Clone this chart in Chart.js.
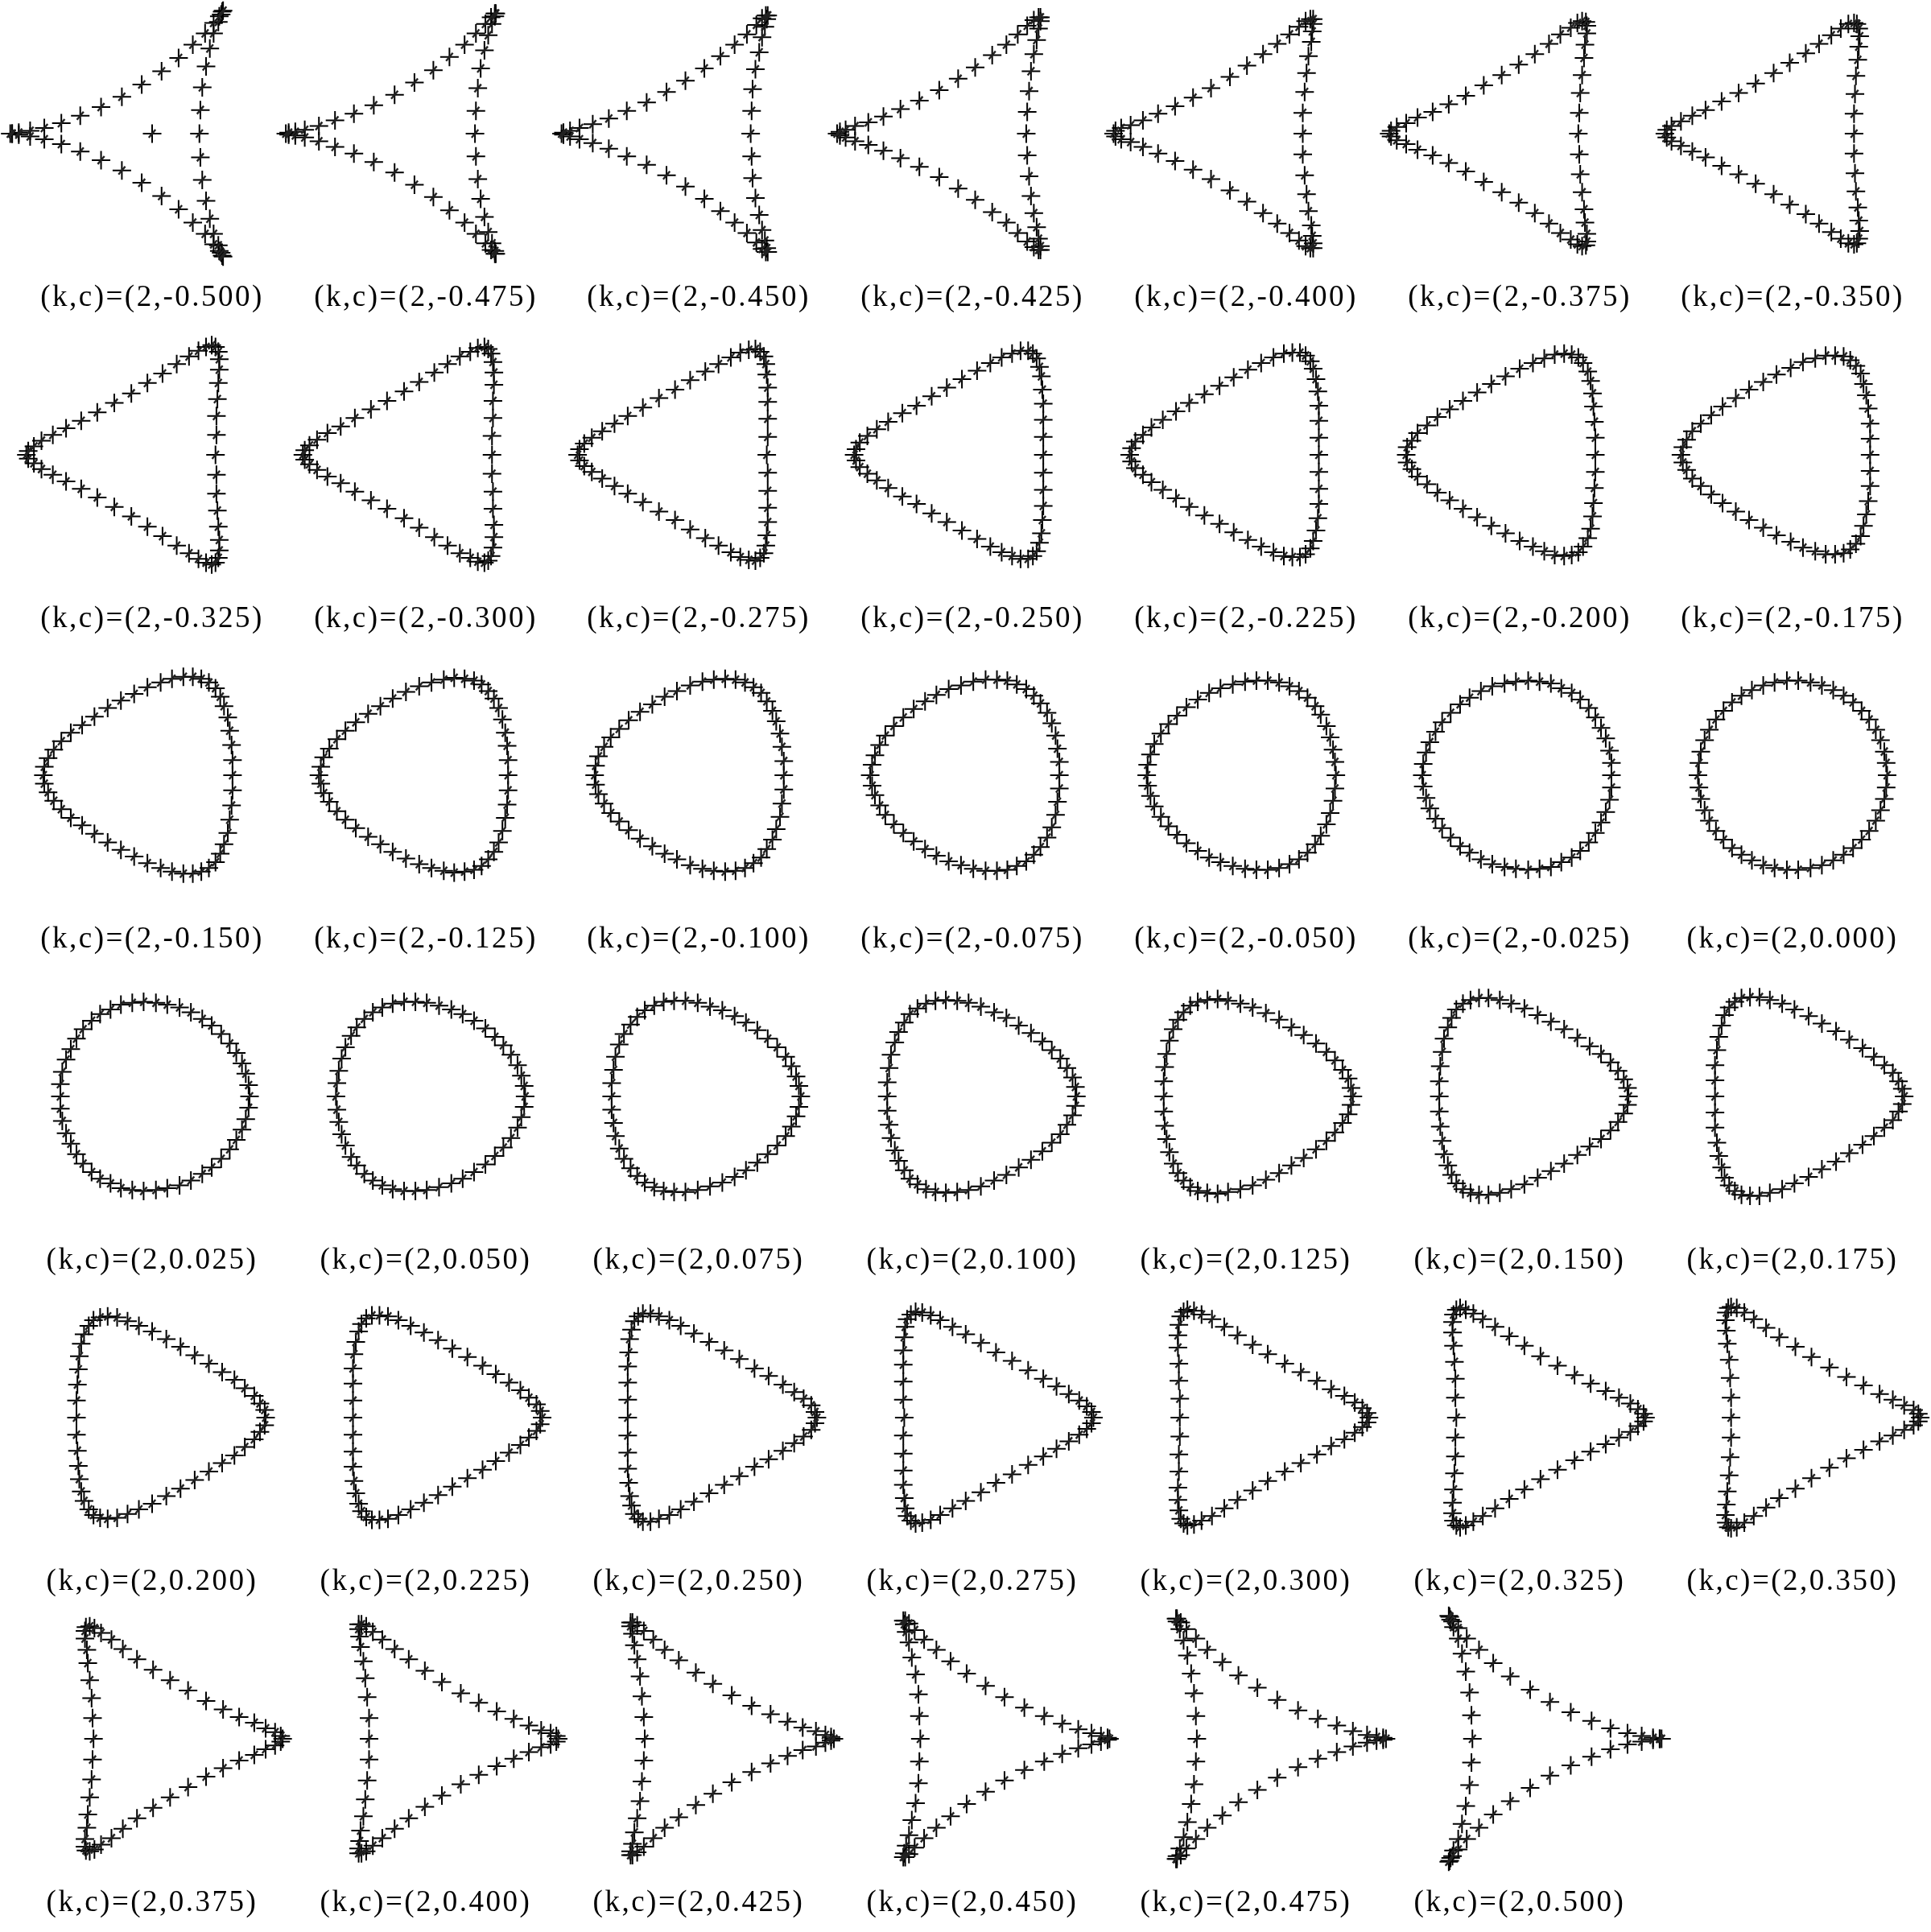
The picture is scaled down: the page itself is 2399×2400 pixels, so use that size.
<!DOCTYPE html>
<html>
<head>
<meta charset="utf-8">
<script src="https://cdn.jsdelivr.net/npm/chart.js"></script>
<style>
html,body{margin:0;padding:0;background:#fff;}
#grid{position:relative;width:2399px;height:2400px;overflow:hidden;background:#fff;}
#grid canvas{position:absolute;}
</style>
</head>
<body>
<div id="grid"></div>
<script>
// ---- data (units = 1/100 of the curve radius) ----
const K_VALUE = 2;
const C_VALUES = [-0.500,-0.475,-0.450,-0.425,-0.400,-0.375,-0.350,-0.325,-0.300,-0.275,-0.250,-0.225,-0.200,-0.175,-0.150,-0.125,-0.100,-0.075,-0.050,-0.025,0.000,0.025,0.050,0.075,0.100,0.125,0.150,0.175,0.200,0.225,0.250,0.275,0.300,0.325,0.350,0.375,0.400,0.425,0.450,0.475,0.500];

// heights (shared by the panels c and -c, which are mirror images)
const Y_00 = [0,13,25,37,48,59,68,77,84,90,95,98,100,100,98,95,90,84,77,68,59,48,37,25,13,0,-13,-25,-37,-48,-59,-68,-77,-84,-90,-95,-98,-100,-100,-98,-95,-90,-84,-77,-68,-59,-48,-37,-25,-13];
const Y_01 = [0,12,24,35,46,56,66,75,82,89,94,97,99,100,99,97,92,87,80,71,61,50,39,26,13,0,-13,-26,-39,-50,-61,-71,-80,-87,-92,-97,-99,-100,-99,-97,-94,-89,-82,-75,-66,-56,-46,-35,-24,-12];
const Y_02 = [0,11,22,33,44,54,63,72,80,87,92,96,99,100,100,98,94,89,82,73,64,52,40,27,14,0,-14,-27,-40,-52,-64,-73,-82,-89,-94,-98,-100,-100,-99,-96,-92,-87,-80,-72,-63,-54,-44,-33,-22,-11];
const Y_03 = [0,11,21,32,42,52,61,70,78,85,91,95,99,101,101,100,96,91,84,76,66,55,42,28,14,0,-14,-28,-42,-55,-66,-76,-84,-91,-96,-100,-101,-101,-99,-95,-91,-85,-78,-70,-61,-52,-42,-32,-21,-11];
const Y_04 = [0,10,20,30,40,49,58,67,75,83,89,95,99,101,102,101,98,93,87,78,68,57,44,30,15,0,-15,-30,-44,-57,-68,-78,-87,-93,-98,-101,-102,-101,-99,-95,-89,-83,-75,-67,-58,-49,-40,-30,-20,-10];
const Y_05 = [0,9,19,28,38,47,56,65,73,81,88,94,98,101,103,102,100,96,89,81,71,59,45,31,16,0,-16,-31,-45,-59,-71,-81,-89,-96,-100,-102,-103,-101,-98,-94,-88,-81,-73,-65,-56,-47,-38,-28,-19,-9];
const Y_06 = [0,9,18,27,36,45,53,62,71,79,86,93,98,102,104,104,102,98,92,83,73,61,47,32,16,0,-16,-32,-47,-61,-73,-83,-92,-98,-102,-104,-104,-102,-98,-93,-86,-79,-71,-62,-53,-45,-36,-27,-18,-9];
const Y_07 = [0,8,16,25,33,42,51,60,69,77,85,92,98,102,105,105,104,100,94,86,75,63,49,33,17,0,-17,-33,-49,-63,-75,-86,-94,-100,-104,-105,-105,-102,-98,-92,-85,-77,-69,-60,-51,-42,-33,-25,-16,-8];
const Y_08 = [0,8,15,23,31,40,48,57,66,75,83,91,97,102,106,107,106,103,97,88,78,65,51,35,18,0,-18,-35,-51,-65,-78,-88,-97,-103,-106,-107,-106,-102,-97,-91,-83,-75,-66,-57,-48,-40,-31,-23,-15,-8];
const Y_09 = [0,7,14,21,29,37,46,55,64,73,82,90,97,103,107,108,108,105,99,91,80,67,52,36,18,0,-18,-36,-52,-67,-80,-91,-99,-105,-108,-108,-107,-103,-97,-90,-82,-73,-64,-55,-46,-37,-29,-21,-14,-7];
const Y_10 = [0,6,13,20,27,35,44,52,62,71,80,89,97,103,107,110,110,107,102,93,83,69,54,37,19,0,-19,-37,-54,-69,-83,-93,-102,-107,-110,-110,-107,-103,-97,-89,-80,-71,-62,-52,-44,-35,-27,-20,-13,-6];
const Y_11 = [0,6,12,18,25,33,41,50,60,69,79,88,96,103,108,111,112,109,104,96,85,71,56,38,19,0,-19,-38,-56,-71,-85,-96,-104,-109,-112,-111,-108,-103,-96,-88,-79,-69,-60,-50,-41,-33,-25,-18,-12,-6];
const Y_12 = [0,5,10,16,23,30,39,48,57,67,77,87,96,104,109,113,114,112,107,98,87,74,57,39,20,0,-20,-39,-57,-74,-87,-98,-107,-112,-114,-113,-109,-104,-96,-87,-77,-67,-57,-48,-39,-30,-23,-16,-10,-5];
const Y_13 = [0,4,9,15,21,28,36,45,55,65,76,86,96,104,110,114,116,114,109,101,90,76,59,41,21,0,-21,-41,-59,-76,-90,-101,-109,-114,-116,-114,-110,-104,-96,-86,-76,-65,-55,-45,-36,-28,-21,-15,-9,-4];
const Y_14 = [0,4,8,13,19,25,34,43,53,64,75,85,95,104,111,116,117,116,111,103,92,78,61,42,21,0,-21,-42,-61,-78,-92,-103,-111,-116,-117,-116,-111,-104,-95,-85,-75,-64,-53,-43,-34,-25,-19,-13,-8,-4];
const Y_15 = [0,3,7,11,17,23,31,40,51,62,73,84,95,105,112,117,119,118,114,106,94,80,62,43,22,0,-22,-43,-62,-80,-94,-106,-114,-118,-119,-117,-112,-105,-95,-84,-73,-62,-51,-40,-31,-23,-17,-11,-7,-3];
const Y_16 = [0,3,6,9,14,21,29,38,48,60,72,84,95,105,113,119,121,121,116,108,97,82,64,44,22,0,-22,-44,-64,-82,-97,-108,-116,-121,-121,-119,-113,-105,-95,-84,-72,-60,-48,-38,-29,-21,-14,-9,-6,-3];
const Y_17 = [0,2,4,8,12,18,26,35,46,58,70,83,94,105,114,120,123,123,119,111,99,84,66,45,23,0,-23,-45,-66,-84,-99,-111,-119,-123,-123,-120,-114,-105,-94,-83,-70,-58,-46,-35,-26,-18,-12,-8,-4,-2];
const Y_18 = [0,1,3,6,10,16,24,33,44,56,69,82,94,105,115,122,125,125,121,113,102,86,68,47,24,0,-24,-47,-68,-86,-102,-113,-121,-125,-125,-122,-115,-105,-94,-82,-69,-56,-44,-33,-24,-16,-10,-6,-3,-1];
const Y_19 = [0,1,2,4,8,14,21,30,41,54,67,81,94,106,116,123,127,127,124,116,104,88,69,48,24,0,-24,-48,-69,-88,-104,-116,-124,-127,-127,-123,-116,-106,-94,-81,-67,-54,-41,-30,-21,-14,-8,-4,-2,-1];
const Y_20 = [0,0,1,3,6,11,19,28,39,52,66,80,94,106,117,124,129,130,126,118,106,90,71,49,25,0,-25,-49,-71,-90,-106,-118,-126,-130,-129,-124,-117,-106,-94,-80,-66,-52,-39,-28,-19,-11,-6,-3,-1,0];

// horizontal positions, one array per panel
const X_N20 = [-150,-148,-141,-129,-114,-96,-76,-54,-32,-11,10,28,43,56,65,71,74,75,73,70,65,61,57,53,51,50,51,53,57,61,65,70,73,75,74,71,65,56,43,28,10,-11,-32,-54,-76,-96,-114,-129,-141,-148];
const X_N19 = [-148,-145,-138,-128,-113,-96,-76,-55,-33,-12,8,25,41,53,63,69,73,74,73,70,66,62,58,55,53,52,53,55,58,62,66,70,73,74,73,69,63,53,41,25,8,-12,-33,-55,-76,-96,-113,-128,-138,-145];
const X_N18 = [-145,-143,-136,-126,-112,-95,-76,-55,-34,-14,6,23,38,51,61,67,71,73,72,70,67,64,60,57,56,55,56,57,60,64,67,70,72,73,71,67,61,51,38,23,6,-14,-34,-55,-76,-95,-112,-126,-136,-143];
const X_N17 = [-143,-140,-134,-124,-110,-94,-76,-56,-35,-15,3,21,36,48,58,65,70,72,72,70,68,65,62,60,58,57,58,60,62,65,68,70,72,72,70,65,58,48,36,21,3,-15,-35,-56,-76,-94,-110,-124,-134,-140];
const X_N16 = [-140,-138,-132,-122,-109,-93,-75,-56,-37,-17,1,18,33,46,56,63,68,71,71,70,69,66,64,62,60,60,60,62,64,66,69,70,71,71,68,63,56,46,33,18,1,-17,-37,-56,-75,-93,-109,-122,-132,-138];
const X_N15 = [-138,-136,-130,-120,-108,-92,-75,-57,-38,-19,-1,16,31,43,54,61,66,70,71,71,69,68,66,64,63,62,63,64,66,68,69,71,71,70,66,61,54,43,31,16,-1,-19,-38,-57,-75,-92,-108,-120,-130,-136];
const X_N14 = [-135,-133,-128,-118,-106,-92,-75,-57,-39,-20,-3,14,28,41,51,59,65,68,70,71,70,69,67,66,65,65,65,66,67,69,70,71,70,68,65,59,51,41,28,14,-3,-20,-39,-57,-75,-92,-106,-118,-128,-133];
const X_N13 = [-133,-131,-125,-117,-105,-91,-75,-58,-40,-22,-5,11,26,39,49,57,63,67,70,71,71,70,69,68,68,67,68,68,69,70,71,71,70,67,63,57,49,39,26,11,-5,-22,-40,-58,-75,-91,-105,-117,-125,-131];
const X_N12 = [-130,-128,-123,-115,-104,-90,-75,-58,-41,-23,-7,9,23,36,47,55,62,66,69,71,72,72,71,71,70,70,70,71,71,72,72,71,69,66,62,55,47,36,23,9,-7,-23,-41,-58,-75,-90,-104,-115,-123,-128];
const X_N11 = [-128,-126,-121,-113,-102,-89,-75,-59,-42,-25,-9,7,21,34,44,53,60,65,69,71,72,73,73,73,73,72,73,73,73,73,72,71,69,65,60,53,44,34,21,7,-9,-25,-42,-59,-75,-89,-102,-113,-121,-126];
const X_N10 = [-125,-123,-119,-111,-101,-89,-74,-59,-43,-27,-11,5,19,31,42,51,59,64,68,71,73,74,75,75,75,75,75,75,75,74,73,71,68,64,59,51,42,31,19,5,-11,-27,-43,-59,-74,-89,-101,-111,-119,-123];
const X_N09 = [-123,-121,-117,-109,-100,-88,-74,-60,-44,-28,-13,2,16,29,40,49,57,63,68,71,74,76,77,77,77,77,77,77,77,76,74,71,68,63,57,49,40,29,16,2,-13,-28,-44,-60,-74,-88,-100,-109,-117,-121];
const X_N08 = [-120,-119,-114,-108,-98,-87,-74,-60,-45,-30,-15,0,14,26,37,47,55,62,67,72,75,77,78,79,80,80,80,79,78,77,75,72,67,62,55,47,37,26,14,0,-15,-30,-45,-60,-74,-87,-98,-108,-114,-119];
const X_N07 = [-118,-116,-112,-106,-97,-86,-74,-60,-46,-31,-17,-2,11,24,35,45,54,61,67,72,75,78,80,82,82,82,82,82,80,78,75,72,67,61,54,45,35,24,11,-2,-17,-31,-46,-60,-74,-86,-97,-106,-112,-116];
const X_N06 = [-115,-114,-110,-104,-96,-86,-74,-61,-47,-33,-19,-5,9,21,33,43,52,60,67,72,76,80,82,84,85,85,85,84,82,80,76,72,67,60,52,43,33,21,9,-5,-19,-33,-47,-61,-74,-86,-96,-104,-110,-114];
const X_N05 = [-113,-111,-108,-102,-94,-85,-74,-61,-48,-35,-21,-7,6,19,30,41,51,59,66,72,77,81,84,86,87,87,87,86,84,81,77,72,66,59,51,41,30,19,6,-7,-21,-35,-48,-61,-74,-85,-94,-102,-108,-111];
const X_N04 = [-110,-109,-106,-100,-93,-84,-74,-62,-49,-36,-23,-9,4,16,28,39,49,58,66,72,78,82,86,88,90,90,90,88,86,82,78,72,66,58,49,39,28,16,4,-9,-23,-36,-49,-62,-74,-84,-93,-100,-106,-109];
const X_N03 = [-108,-106,-103,-98,-92,-83,-73,-62,-50,-38,-25,-12,1,14,26,37,47,57,65,72,79,84,88,90,92,92,92,90,88,84,79,72,65,57,47,37,26,14,1,-12,-25,-38,-50,-62,-73,-83,-92,-98,-103,-106];
const X_N02 = [-105,-104,-101,-97,-90,-82,-73,-63,-51,-39,-27,-14,-1,11,23,35,46,56,65,73,79,85,89,92,94,95,94,92,89,85,79,73,65,56,46,35,23,11,-1,-14,-27,-39,-51,-63,-73,-82,-90,-97,-101,-104];
const X_N01 = [-103,-102,-99,-95,-89,-82,-73,-63,-53,-41,-29,-16,-4,9,21,33,44,55,64,73,80,86,91,95,97,97,97,95,91,86,80,73,64,55,44,33,21,9,-4,-16,-29,-41,-53,-63,-73,-82,-89,-95,-99,-102];
const X_000 = [100,99,97,93,88,81,73,64,54,43,31,19,6,-6,-19,-31,-43,-54,-64,-73,-81,-88,-93,-97,-99,-100,-99,-97,-93,-88,-81,-73,-64,-54,-43,-31,-19,-6,6,19,31,43,54,64,73,81,88,93,97,99];
const X_P01 = [103,102,99,95,89,82,73,63,53,41,29,16,4,-9,-21,-33,-44,-55,-64,-73,-80,-86,-91,-95,-97,-97,-97,-95,-91,-86,-80,-73,-64,-55,-44,-33,-21,-9,4,16,29,41,53,63,73,82,89,95,99,102];
const X_P02 = [105,104,101,97,90,82,73,63,51,39,27,14,1,-11,-23,-35,-46,-56,-65,-73,-79,-85,-89,-92,-94,-95,-94,-92,-89,-85,-79,-73,-65,-56,-46,-35,-23,-11,1,14,27,39,51,63,73,82,90,97,101,104];
const X_P03 = [108,106,103,98,92,83,73,62,50,38,25,12,-1,-14,-26,-37,-47,-57,-65,-72,-79,-84,-88,-90,-92,-92,-92,-90,-88,-84,-79,-72,-65,-57,-47,-37,-26,-14,-1,12,25,38,50,62,73,83,92,98,103,106];
const X_P04 = [110,109,106,100,93,84,74,62,49,36,23,9,-4,-16,-28,-39,-49,-58,-66,-72,-78,-82,-86,-88,-90,-90,-90,-88,-86,-82,-78,-72,-66,-58,-49,-39,-28,-16,-4,9,23,36,49,62,74,84,93,100,106,109];
const X_P05 = [113,111,108,102,94,85,74,61,48,35,21,7,-6,-19,-30,-41,-51,-59,-66,-72,-77,-81,-84,-86,-87,-87,-87,-86,-84,-81,-77,-72,-66,-59,-51,-41,-30,-19,-6,7,21,35,48,61,74,85,94,102,108,111];
const X_P06 = [115,114,110,104,96,86,74,61,47,33,19,5,-9,-21,-33,-43,-52,-60,-67,-72,-76,-80,-82,-84,-85,-85,-85,-84,-82,-80,-76,-72,-67,-60,-52,-43,-33,-21,-9,5,19,33,47,61,74,86,96,104,110,114];
const X_P07 = [118,116,112,106,97,86,74,60,46,31,17,2,-11,-24,-35,-45,-54,-61,-67,-72,-75,-78,-80,-82,-82,-82,-82,-82,-80,-78,-75,-72,-67,-61,-54,-45,-35,-24,-11,2,17,31,46,60,74,86,97,106,112,116];
const X_P08 = [120,119,114,108,98,87,74,60,45,30,15,0,-14,-26,-37,-47,-55,-62,-67,-72,-75,-77,-78,-79,-80,-80,-80,-79,-78,-77,-75,-72,-67,-62,-55,-47,-37,-26,-14,0,15,30,45,60,74,87,98,108,114,119];
const X_P09 = [123,121,117,109,100,88,74,60,44,28,13,-2,-16,-29,-40,-49,-57,-63,-68,-71,-74,-76,-77,-77,-77,-77,-77,-77,-77,-76,-74,-71,-68,-63,-57,-49,-40,-29,-16,-2,13,28,44,60,74,88,100,109,117,121];
const X_P10 = [125,123,119,111,101,89,74,59,43,27,11,-5,-19,-31,-42,-51,-59,-64,-68,-71,-73,-74,-75,-75,-75,-75,-75,-75,-75,-74,-73,-71,-68,-64,-59,-51,-42,-31,-19,-5,11,27,43,59,74,89,101,111,119,123];
const X_P11 = [128,126,121,113,102,89,75,59,42,25,9,-7,-21,-34,-44,-53,-60,-65,-69,-71,-72,-73,-73,-73,-73,-72,-73,-73,-73,-73,-72,-71,-69,-65,-60,-53,-44,-34,-21,-7,9,25,42,59,75,89,102,113,121,126];
const X_P12 = [130,128,123,115,104,90,75,58,41,23,7,-9,-23,-36,-47,-55,-62,-66,-69,-71,-72,-72,-71,-71,-70,-70,-70,-71,-71,-72,-72,-71,-69,-66,-62,-55,-47,-36,-23,-9,7,23,41,58,75,90,104,115,123,128];
const X_P13 = [133,131,125,117,105,91,75,58,40,22,5,-11,-26,-39,-49,-57,-63,-67,-70,-71,-71,-70,-69,-68,-68,-67,-68,-68,-69,-70,-71,-71,-70,-67,-63,-57,-49,-39,-26,-11,5,22,40,58,75,91,105,117,125,131];
const X_P14 = [135,133,128,118,106,92,75,57,39,20,3,-14,-28,-41,-51,-59,-65,-68,-70,-71,-70,-69,-67,-66,-65,-65,-65,-66,-67,-69,-70,-71,-70,-68,-65,-59,-51,-41,-28,-14,3,20,39,57,75,92,106,118,128,133];
const X_P15 = [138,136,130,120,108,92,75,57,38,19,1,-16,-31,-43,-54,-61,-66,-70,-71,-71,-69,-68,-66,-64,-63,-62,-63,-64,-66,-68,-69,-71,-71,-70,-66,-61,-54,-43,-31,-16,1,19,38,57,75,92,108,120,130,136];
const X_P16 = [140,138,132,122,109,93,75,56,37,17,-1,-18,-33,-46,-56,-63,-68,-71,-71,-70,-69,-66,-64,-62,-60,-60,-60,-62,-64,-66,-69,-70,-71,-71,-68,-63,-56,-46,-33,-18,-1,17,37,56,75,93,109,122,132,138];
const X_P17 = [143,140,134,124,110,94,76,56,35,15,-3,-21,-36,-48,-58,-65,-70,-72,-72,-70,-68,-65,-62,-60,-58,-57,-58,-60,-62,-65,-68,-70,-72,-72,-70,-65,-58,-48,-36,-21,-3,15,35,56,76,94,110,124,134,140];
const X_P18 = [145,143,136,126,112,95,76,55,34,14,-6,-23,-38,-51,-61,-67,-71,-73,-72,-70,-67,-64,-60,-57,-56,-55,-56,-57,-60,-64,-67,-70,-72,-73,-71,-67,-61,-51,-38,-23,-6,14,34,55,76,95,112,126,136,143];
const X_P19 = [148,145,138,128,113,96,76,55,33,12,-8,-25,-41,-53,-63,-69,-73,-74,-73,-70,-66,-62,-58,-55,-53,-52,-53,-55,-58,-62,-66,-70,-73,-74,-73,-69,-63,-53,-41,-25,-8,12,33,55,76,96,113,128,138,145];
const X_P20 = [150,148,141,129,114,96,76,54,32,11,-10,-28,-43,-56,-65,-71,-74,-75,-73,-70,-65,-61,-57,-53,-51,-50,-51,-53,-57,-61,-65,-70,-73,-75,-74,-71,-65,-56,-43,-28,-10,11,32,54,76,96,114,129,141,148];

// the extra mark at the centre of the first panel (c = -0.500)
const CENTRE_MARK_X = [0];
const CENTRE_MARK_Y = [0];

// ---- tables built from the arrays above ----
const X_LIST = [X_N20,X_N19,X_N18,X_N17,X_N16,X_N15,X_N14,X_N13,X_N12,X_N11,X_N10,X_N09,X_N08,X_N07,X_N06,X_N05,X_N04,X_N03,X_N02,X_N01,
                X_000,X_P01,X_P02,X_P03,X_P04,X_P05,X_P06,X_P07,X_P08,X_P09,X_P10,X_P11,X_P12,X_P13,X_P14,X_P15,X_P16,X_P17,X_P18,X_P19,X_P20];
const Y_LIST = [Y_20,Y_19,Y_18,Y_17,Y_16,Y_15,Y_14,Y_13,Y_12,Y_11,Y_10,Y_09,Y_08,Y_07,Y_06,Y_05,Y_04,Y_03,Y_02,Y_01,
                Y_00,Y_01,Y_02,Y_03,Y_04,Y_05,Y_06,Y_07,Y_08,Y_09,Y_10,Y_11,Y_12,Y_13,Y_14,Y_15,Y_16,Y_17,Y_18,Y_19,Y_20];

// ---- layout ----
const COLS = 7;
const ORIGIN_X0 = 189, COL_STEP = 339.7;
const ORIGIN_Y0 = 166, ROW_STEP = 398.7;
const CANVAS_W = 400, CANVAS_H = 400, AREA_H = 340;
const PX_PER_UNIT = 1.175;

const labelSpacing = {
  id: 'labelSpacing',
  beforeDraw(chart) { if ('letterSpacing' in chart.ctx) chart.ctx.letterSpacing = '2.5px'; }
};

const grid = document.getElementById('grid');

C_VALUES.forEach((c, i) => {
  const col = i % COLS, row = Math.floor(i / COLS);
  const ox = ORIGIN_X0 + COL_STEP * col;
  const oy = ORIGIN_Y0 + ROW_STEP * row;
  const cv = document.createElement('canvas');
  cv.width = CANVAS_W; cv.height = CANVAS_H;
  cv.style.width = CANVAS_W + 'px'; cv.style.height = CANVAS_H + 'px';
  cv.style.left = Math.round(ox - CANVAS_W / 2) + 'px';
  cv.style.top = Math.round(oy - AREA_H / 2) + 'px';
  grid.appendChild(cv);

  const xs = X_LIST[i], ys = Y_LIST[i];
  const pts = xs.map((x, j) => ({ x: x, y: ys[j] }));
  if (i === 0) {
    CENTRE_MARK_X.forEach((x, j) => pts.push({ x: x, y: CENTRE_MARK_Y[j] }));
  }
  const halfX = (CANVAS_W / 2) / PX_PER_UNIT;
  const halfY = (AREA_H / 2) / PX_PER_UNIT;
  const label = '(k,c)=(' + K_VALUE + ',' + c.toFixed(3) + ')';

  new Chart(cv, {
    type: 'scatter',
    data: {
      datasets: [
        { data: pts, pointStyle: 'line', pointRotation: -50, pointRadius: 6.5,
          borderWidth: 2.4, borderColor: '#222', backgroundColor: '#222', clip: false, order: 0 },
        { data: pts, pointStyle: 'cross', pointRadius: 11.5,
          borderWidth: 2, borderColor: '#000', backgroundColor: '#000', clip: false, order: 1 }
      ]
    },
    options: {
      responsive: false,
      animation: false,
      devicePixelRatio: 1,
      events: [],
      layout: { padding: 0, autoPadding: false },
      plugins: {
        legend: { display: false },
        tooltip: { enabled: false },
        title: {
          display: true, position: 'bottom', text: label, color: '#000',
          font: { family: '"Liberation Serif", "Times New Roman", serif', size: 37, weight: 'normal', lineHeight: 1 },
          padding: { top: 16, bottom: 7 }
        }
      },
      scales: {
        x: { type: 'linear', display: false, min: -halfX, max: halfX },
        y: { type: 'linear', display: false, min: -halfY, max: halfY }
      }
    },
    plugins: [labelSpacing]
  });
});
</script>
</body>
</html>
